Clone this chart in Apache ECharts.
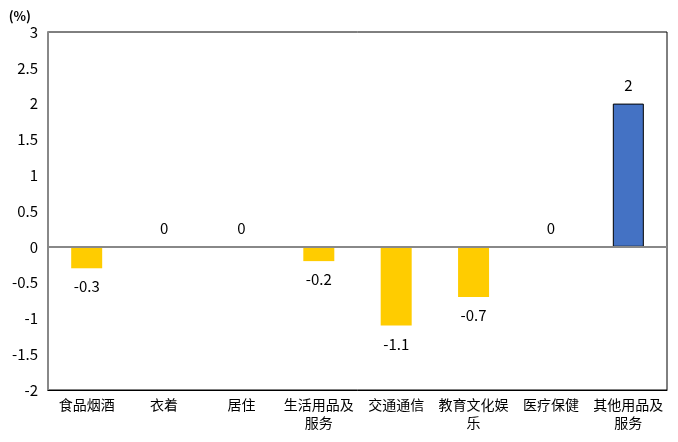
<!DOCTYPE html>
<html>
<head>
<meta charset="utf-8">
<script src="https://cdn.jsdelivr.net/npm/echarts@6/dist/echarts.min.js"></script>
<style>
html,body{margin:0;padding:0;background:#fff;}
#main{width:678px;height:442px;}
</style>
</head>
<body>
<div id="main"></div>
<script>
// 分类与数值
var categories = ['食品烟酒','衣着','居住','生活用品及\n服务','交通通信','教育文化娱\n乐','医疗保健','其他用品及\n服务'];
var values = [-0.3, 0, 0, -0.2, -1.1, -0.7, 0, 2];
var yTicks = {min: -2, max: 3, interval: 0.5};

var font = '"Noto Sans CJK SC", "Liberation Sans", sans-serif';

var myChart = echarts.init(document.getElementById('main'));
var option = {
    animation:false,
    textStyle:{fontFamily:font},
    grid:{
        left:48,
        right:11,
        top:32,
        bottom:52,
        show:true,
        borderColor:'#000',
        borderWidth:1
    },
    xAxis:{
        type:'category',
        data:categories,
        axisLine:{onZero:false, lineStyle:{color:'#000'}},
        axisTick:{show:false},
        axisLabel:{
            color:'#000',
            fontSize:14,
            interval:0,
            lineHeight:18,
            margin:6,
            fontFamily:font
        }
    },
    yAxis:{
        type:'value',
        min:yTicks.min,
        max:yTicks.max,
        interval:yTicks.interval,
        name:'(%)',
        nameLocation:'end',
        nameGap:9,
        nameTextStyle:{color:'#000', fontSize:13, fontWeight:'bold', align:'right', padding:[0,17,0,0], fontFamily:font},
        axisLine:{show:true, lineStyle:{color:'#888', width:2}},
        axisTick:{show:false},
        splitLine:{show:false},
        axisLabel:{color:'#000', fontSize:15, margin:10, fontFamily:font}
    },
    series:[
        {
            type:'bar',
            barWidth:31,
            data:values.map(function(v){
                return {
                    value:v,
                    itemStyle:v > 0 ? {color:'#4472C4', borderColor:'#000', borderWidth:1} : {color:'#FFCC00'},
                    label:{position:v < 0 ? 'bottom' : 'top'}
                };
            }),
            label:{
                show:true,
                color:'#000',
                fontSize:15,
                distance:11,
                fontFamily:font
            },
            markLine:{
                silent:true,
                symbol:'none',
                label:{show:false},
                lineStyle:{color:'#888', width:2, type:'solid'},
                data:[{yAxis:0}]
            }
        }
    ]
};
myChart.setOption(option);
</script>
</body>
</html>
